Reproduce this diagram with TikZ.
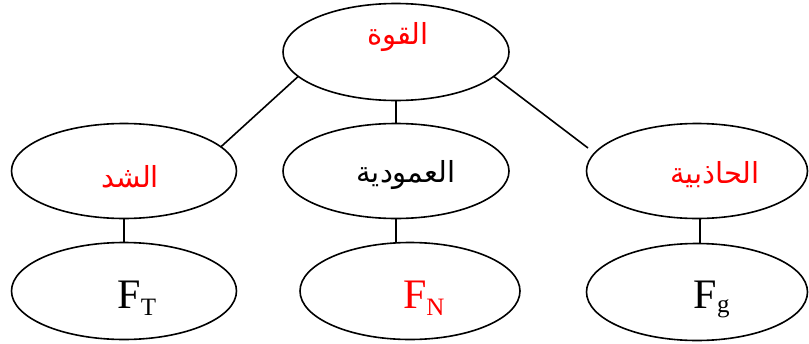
\documentclass[tikz,border=0pt]{standalone}
\usepackage{fontspec}
\setmainfont{Liberation Serif}
\newfontfamily\arabicfont[Script=Arabic]{DejaVu Sans}
\TeXXeTstate=1
\usetikzlibrary{shapes.geometric}
\definecolor{arred}{RGB}{255,0,0}
\begin{document}
\begin{tikzpicture}[x=1pt,y=-1pt,
  oval/.style={ellipse,draw=black,line width=1.6pt,inner sep=0pt,outer sep=0pt},
  artext/.style={font=\arabicfont\fontsize{29}{33}\selectfont,inner sep=0pt},
  ftext/.style={font=\fontsize{42}{48}\selectfont,inner sep=0pt,anchor=base},
  link/.style={draw=black,line width=1.6pt}]
\useasboundingbox (0,0) rectangle (809,343);
% ellipses
\node[oval,minimum width=226pt,minimum height=97pt] (top) at (396,52) {};
\node[oval,minimum width=225pt,minimum height=95pt] (left) at (124,171) {};
\node[oval,minimum width=226pt,minimum height=95pt] (mid) at (396,171) {};
\node[oval,minimum width=221pt,minimum height=95pt] (right) at (697,171) {};
\node[oval,minimum width=225pt,minimum height=97pt] (ft) at (124,291) {};
\node[oval,minimum width=220pt,minimum height=97pt] (fn) at (410,291) {};
\node[oval,minimum width=221pt,minimum height=97pt] (fg) at (697,292) {};
% texts
\node[artext,text=arred] (ttop) at (398,37) {\beginR القوة\endR};
\node[artext,text=arred] (tleft) at (130,177) {\beginR الشد\endR};
\node[artext,text=black] (tmid) at (406,175) {\beginR العمودية\endR};
\node[artext,text=arred] (tright) at (715,175) {\beginR الحاذبية\endR};
\node[ftext,text=black] (lft) at (137,308) {F\textsubscript{\fontsize{25}{28}\selectfont T}};
\node[ftext,text=arred] (lfn) at (424,308) {F\textsubscript{\fontsize{25}{28}\selectfont N}};
\node[ftext,text=black] (lfg) at (712,308) {F\textsubscript{\fontsize{25}{28}\selectfont g}};
% connectors
\draw[link] (top.194) -- (left.14);
\coordinate (rend) at (588,148);
\draw[link] (top.-14) -- (rend);
\draw[link] (mid.north) -- (mid.north |- top.south);
\draw[link] (left.south) -- (left.south |- ft.north);
\draw[link] (mid.south) -- (mid.south |- fn.north);
\coordinate (rs) at ([xshift=3pt]right.south);
\draw[link] (rs) -- (rs |- fg.north);
\end{tikzpicture}
\end{document}
